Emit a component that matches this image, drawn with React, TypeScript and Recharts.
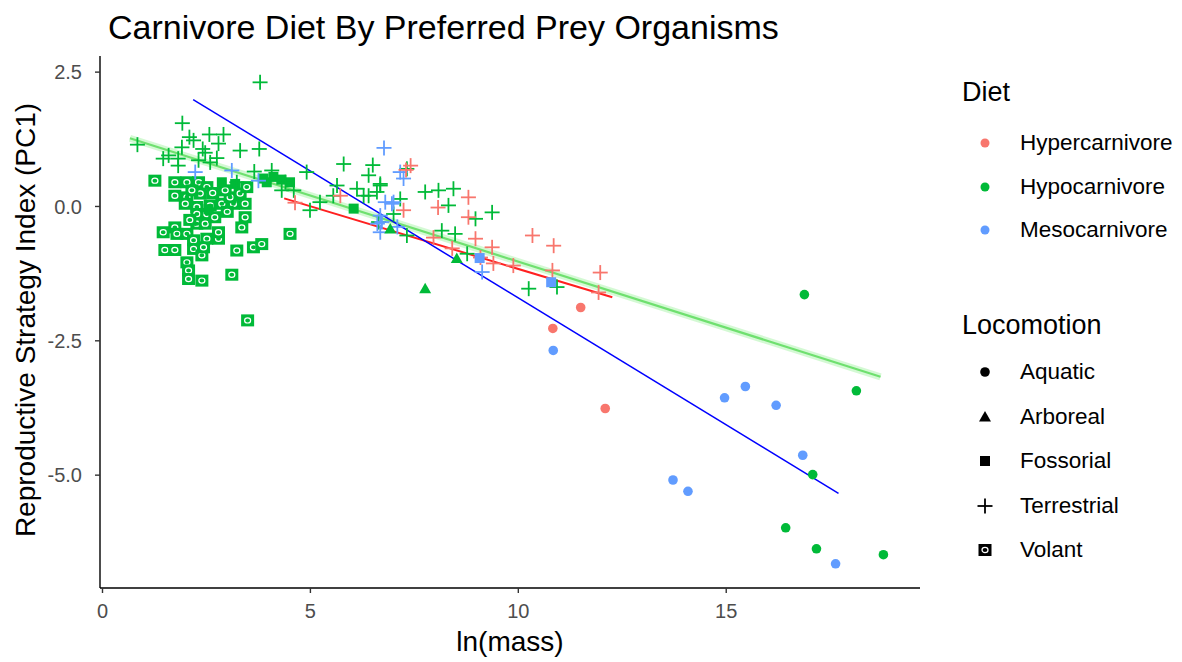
import { ReferenceLine, Scatter, ScatterChart, XAxis, YAxis } from 'recharts';

const DIET_COLORS: Record<string, string> = {
  Hypercarnivore: '#F8766D',
  Hypocarnivore: '#00BA38',
  Mesocarnivore: '#619CFF',
};
const DIETS = ['Hypercarnivore', 'Hypocarnivore', 'Mesocarnivore'];
const LOCOMOTIONS = ['Aquatic', 'Arboreal', 'Fossorial', 'Terrestrial', 'Volant'];
const X_TICKS = [0, 5, 10, 15];
const Y_TICKS = [-5, -2.5, 0, 2.5];

// [ln(mass), PC1]
const hyperTerrestrial = [
  [7.41, 0.76], [7.3, 0.68], [8.8, 0.17], [7.24, -0.07], [8.07, -0.02], [8.8, -0.2],
  [7.96, -0.58], [8.97, -0.6], [9.37, -0.76], [9.09, -0.95], [9.4, -1.06], [8.41, -0.78],
  [9.88, -1.1], [10.34, -0.54], [10.85, -0.73], [10.82, -1.19], [11.97, -1.23],
  [11.93, -1.6], [5.72, 0.2], [4.63, 0.07],
];
const hyperAquatic = [[10.83, -2.27], [11.5, -1.88], [12.09, -3.76]];

const mesoTerrestrial = [
  [6.77, 1.09], [7.16, 0.64], [7.24, 0.52], [6.8, 0.08], [7.0, 0.08], [6.68, -0.17],
  [6.72, -0.29], [6.68, -0.48], [7.09, -0.38], [9.13, -1.22], [6.61, -0.32], [6.96, 0.05],
  [2.23, 0.64], [3.11, 0.67], [3.75, 0.48],
];
const mesoFossorial = [[9.07, -0.96], [10.79, -1.41]];
const mesoAquatic = [
  [10.84, -2.68], [13.72, -5.09], [14.08, -5.3], [14.96, -3.56], [15.46, -3.35],
  [16.2, -3.7], [16.84, -4.63], [17.63, -6.65],
];

const hypoAquatic = [
  [16.88, -1.64], [18.13, -3.43], [17.08, -4.99], [16.43, -5.98], [17.17, -6.37], [18.78, -6.48],
];
const hypoArboreal = [[7.76, -1.53], [8.52, -0.97], [6.92, -0.42]];
const hypoFossorial = [
  [2.87, 0.45], [3.19, 0.42], [4.51, 0.45], [6.04, -0.04], [3.87, 0.52], [4.11, 0.55],
  [3.95, 0.45], [4.3, 0.5], [2.55, -0.05],
];
const hypoTerrestrial = [
  [3.79, 2.31], [0.84, 1.15], [1.92, 1.55], [2.09, 1.29], [2.19, 1.23], [2.57, 1.34],
  [2.91, 1.34], [2.79, 1.17], [2.41, 1.07], [1.91, 1.1], [1.59, 0.95], [1.46, 0.89],
  [1.82, 0.89], [1.82, 0.76], [2.31, 0.86], [2.59, 0.82], [2.75, 0.9], [3.31, 1.04],
  [3.77, 1.07], [3.23, 0.45], [3.65, 0.65], [4.07, 0.67], [4.91, 0.64], [5.8, 0.79],
  [6.5, 0.77], [6.4, 0.58], [5.64, 0.39], [6.12, 0.33], [6.68, 0.42], [6.4, 0.2],
  [5.55, 0.2], [5.23, 0.08], [4.99, -0.07], [4.31, 0.3], [7.32, -0.54], [7.0, -0.14],
  [6.68, 0.39], [6.6, 0.27], [6.28, 0.2], [7.16, 0.14], [6.64, -0.29], [7.76, 0.27],
  [8.08, 0.3], [8.44, 0.33], [8.32, 0.02], [8.97, -0.23], [9.37, -0.11], [8.16, -0.45],
  [8.48, -0.51], [8.77, -0.88], [10.25, -1.53], [10.93, -1.5], [7.32, 0.7], [2.47, 1.0],
  [4.4, 0.45], [4.6, 0.3],
];
const hypoVolant = [
  [1.26, 0.48], [1.74, 0.45], [2.03, 0.45], [2.31, 0.45], [2.51, 0.36], [1.74, 0.2],
  [2.03, 0.17], [2.35, 0.24], [1.99, 0.05], [2.27, -0.01], [2.59, 0.02], [2.87, 0.05],
  [3.15, 0.05], [3.43, 0.05], [3.07, 0.17], [3.31, 0.24], [3.47, 0.36], [3.43, -0.2],
  [3.35, -0.39], [2.27, -0.14], [2.51, -0.14], [2.27, -0.32], [2.47, -0.32], [1.46, -0.48],
  [1.74, -0.39], [1.79, -0.51], [2.03, -0.51], [2.19, -0.63], [2.51, -0.6], [2.79, -0.6],
  [2.79, -0.48], [2.19, -0.79], [1.5, -0.81], [1.74, -0.81], [2.39, -0.91], [2.43, -0.76],
  [2.03, -1.04], [2.07, -1.19], [2.07, -1.35], [2.39, -1.38], [3.23, -0.82], [3.63, -0.76],
  [3.83, -0.7], [3.11, -1.27], [4.51, -0.51], [3.49, -2.12], [2.15, 0.3], [2.65, 0.25],
  [2.95, 0.3], [2.7, -0.2], [3.0, -0.1], [2.1, -0.25],
];

// fitted lines, endpoints
const mesoFit = [[2.18, 1.99], [17.7, -5.34]];
const hypoFit = [[0.66, 1.27], [18.71, -3.17]];
const hyperFit = [[4.37, 0.15], [12.26, -1.69]];

const SERIES: { diet: string; loco: string; points: number[][] }[] = [
  { diet: 'Hypocarnivore', loco: 'Volant', points: hypoVolant },
  { diet: 'Hypocarnivore', loco: 'Fossorial', points: hypoFossorial },
  { diet: 'Hypocarnivore', loco: 'Terrestrial', points: hypoTerrestrial },
  { diet: 'Mesocarnivore', loco: 'Terrestrial', points: mesoTerrestrial },
  { diet: 'Hypercarnivore', loco: 'Terrestrial', points: hyperTerrestrial },
  { diet: 'Hypocarnivore', loco: 'Arboreal', points: hypoArboreal },
  { diet: 'Mesocarnivore', loco: 'Fossorial', points: mesoFossorial },
  { diet: 'Hypercarnivore', loco: 'Aquatic', points: hyperAquatic },
  { diet: 'Mesocarnivore', loco: 'Aquatic', points: mesoAquatic },
  { diet: 'Hypocarnivore', loco: 'Aquatic', points: hypoAquatic },
];

const FONT = '"Liberation Sans", Arial, sans-serif';

function Marker({ cx, cy, fill, kind }: any) {
  if (cx == null || cy == null) return null;
  switch (kind) {
    case 'Aquatic':
      return <circle cx={cx} cy={cy} r={4.8} fill={fill} />;
    case 'Arboreal':
      return (
        <polygon
          points={`${cx},${cy - 6} ${cx + 6},${cy + 4.5} ${cx - 6},${cy + 4.5}`}
          fill={fill}
        />
      );
    case 'Fossorial':
      return <rect x={cx - 5} y={cy - 5} width={10} height={10} fill={fill} />;
    case 'Terrestrial':
      return (
        <g stroke={fill} strokeWidth={1.8}>
          <line x1={cx - 7.5} x2={cx + 7.5} y1={cy} y2={cy} />
          <line x1={cx} x2={cx} y1={cy - 7.5} y2={cy + 7.5} />
        </g>
      );
    default:
      return (
        <g>
          <rect x={cx - 6.5} y={cy - 6} width={13} height={12} fill={fill} />
          <ellipse cx={cx} cy={cy} rx={3} ry={2.6} fill="none" stroke="#fff" strokeWidth={1.2} />
        </g>
      );
  }
}

function LegendIcon({ kind, color }: { kind: string; color: string }) {
  return (
    <svg width={20} height={20} style={{ display: 'block' }}>
      {kind === 'dot' ? (
        <circle cx={10} cy={10} r={4.5} fill={color} />
      ) : (
        <Marker cx={10} cy={10} fill={color} kind={kind} />
      )}
    </svg>
  );
}

function XTick({ x, y, payload }: any) {
  return (
    <text x={x} y={y} dy="0.71em" textAnchor="middle" fill="#4D4D4D" fontSize={20} fontFamily={FONT}>
      {payload.value}
    </text>
  );
}

function YTick({ x, y, payload }: any) {
  return (
    <text x={x} y={y} dy="0.36em" textAnchor="end" fill="#4D4D4D" fontSize={20} fontFamily={FONT}>
      {Number(payload.value).toFixed(1)}
    </text>
  );
}

export default function App() {
  const seg = (p: number[][]) => [
    { x: p[0][0], y: p[0][1] },
    { x: p[1][0], y: p[1][1] },
  ];
  return (
    <div
      style={{
        position: 'absolute',
        left: 0,
        top: 0,
        width: 1182,
        height: 662,
        background: '#fff',
        fontFamily: FONT,
      }}
    >
      <ScatterChart
        width={1182}
        height={662}
        margin={{ top: 56, right: 262, bottom: 0, left: 0 }}
      >
        <XAxis
          type="number"
          dataKey="x"
          domain={[-0.06, 19.66]}
          ticks={X_TICKS}
          allowDataOverflow
          height={74}
          tick={<XTick />}
          tickSize={5}
          tickMargin={11}
          axisLine={{ stroke: '#000', strokeWidth: 1.4 }}
          tickLine={{ stroke: '#333', strokeWidth: 1.4 }}
        />
        <YAxis
          type="number"
          dataKey="y"
          domain={[-7.1, 2.8]}
          ticks={Y_TICKS}
          allowDataOverflow
          width={100}
          tick={<YTick />}
          tickSize={5}
          tickMargin={13}
          axisLine={{ stroke: '#000', strokeWidth: 1.4 }}
          tickLine={{ stroke: '#333', strokeWidth: 1.4 }}
        />
        {SERIES.map((s) => (
          <Scatter
            key={s.diet + s.loco}
            name={s.diet + ' ' + s.loco}
            data={s.points.map(([x, y]) => ({ x, y }))}
            fill={DIET_COLORS[s.diet]}
            isAnimationActive={false}
            shape={(p: any) => <Marker {...p} fill={DIET_COLORS[s.diet]} kind={s.loco} />}
          />
        ))}
        <ReferenceLine segment={seg(hypoFit)} stroke="#B8F5B8" strokeWidth={7} strokeOpacity={0.6} />
        <ReferenceLine segment={seg(hypoFit)} stroke="#6FE06F" strokeWidth={2.2} />
        <ReferenceLine segment={seg(hyperFit)} stroke="#FF2020" strokeWidth={2} />
        <ReferenceLine segment={seg(mesoFit)} stroke="#0000FF" strokeWidth={1.5} />
      </ScatterChart>

      <div
        style={{
          position: 'absolute',
          left: 108,
          top: 27,
          transform: 'translateY(-50%)',
          fontSize: 34,
          color: '#000',
          whiteSpace: 'nowrap',
        }}
      >
        Carnivore Diet By Preferred Prey Organisms
      </div>
      <div
        style={{
          position: 'absolute',
          left: 510,
          top: 642,
          transform: 'translate(-50%, -50%)',
          fontSize: 28,
          whiteSpace: 'nowrap',
        }}
      >
        ln(mass)
      </div>
      <div
        style={{
          position: 'absolute',
          left: 26,
          top: 320,
          transform: 'translate(-50%, -50%) rotate(-90deg)',
          fontSize: 28,
          whiteSpace: 'nowrap',
        }}
      >
        Reproductive Strategy Index (PC1)
      </div>

      <div style={{ position: 'absolute', left: 962, top: 92, transform: 'translateY(-50%)', fontSize: 27 }}>
        Diet
      </div>
      {DIETS.map((d, i) => (
        <div
          key={d}
          style={{ position: 'absolute', left: 975, top: 143 + i * 43.5, transform: 'translateY(-50%)', display: 'flex', alignItems: 'center' }}
        >
          <LegendIcon kind="dot" color={DIET_COLORS[d]} />
          <span style={{ marginLeft: 25, fontSize: 22.5 }}>{d}</span>
        </div>
      ))}
      <div style={{ position: 'absolute', left: 962, top: 325, transform: 'translateY(-50%)', fontSize: 27 }}>
        Locomotion
      </div>
      {LOCOMOTIONS.map((l, i) => (
        <div
          key={l}
          style={{ position: 'absolute', left: 975, top: 372 + i * 44.5, transform: 'translateY(-50%)', display: 'flex', alignItems: 'center' }}
        >
          <LegendIcon kind={l} color="#000" />
          <span style={{ marginLeft: 25, fontSize: 22.5 }}>{l}</span>
        </div>
      ))}
    </div>
  );
}
